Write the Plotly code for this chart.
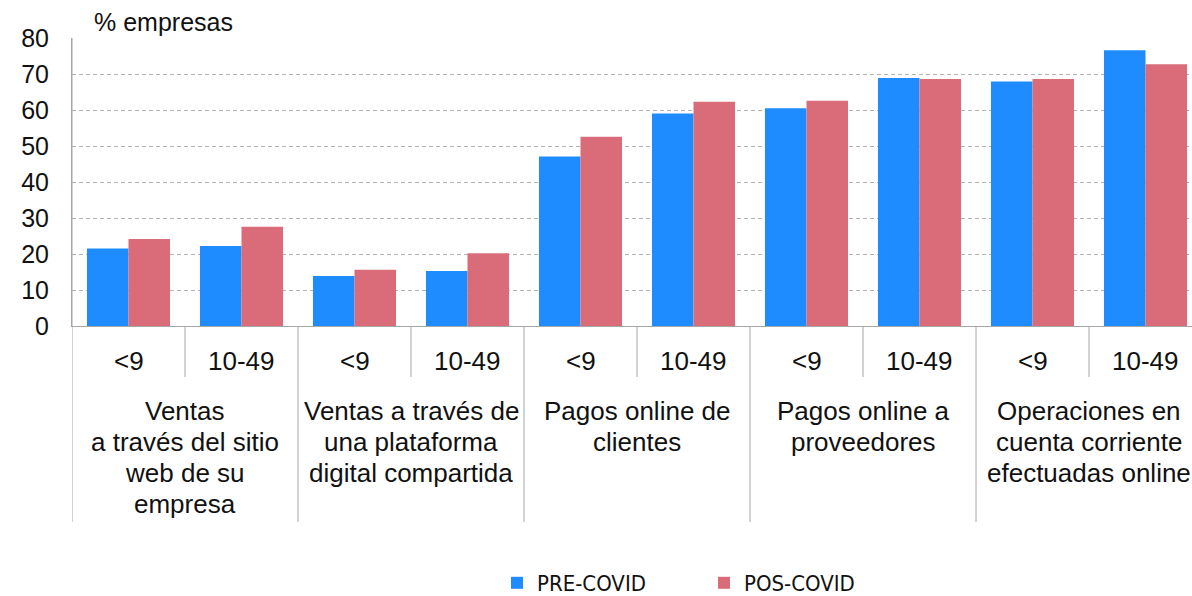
import plotly.graph_objects as go

# ---- data ----
size_labels = ["<9", "10-49", "<9", "10-49", "<9", "10-49", "<9", "10-49", "<9", "10-49"]
group_labels = [
    "Ventas<br>a través del sitio<br>web de su<br>empresa",
    "Ventas a través de<br>una plataforma<br>digital compartida",
    "Pagos online de<br>clientes",
    "Pagos online a<br>proveedores",
    "Operaciones en<br>cuenta corriente<br>efectuadas online",
]
pre_covid = [21.5, 22.2, 13.9, 15.3, 47.1, 59.0, 60.5, 68.9, 67.9, 76.6]
pos_covid = [24.2, 27.6, 15.6, 20.2, 52.6, 62.3, 62.6, 68.6, 68.6, 72.7]
y_ticks = [0, 10, 20, 30, 40, 50, 60, 70, 80]

FONT = "Helvetica Neue, Helvetica, Liberation Sans, Arial, sans-serif"
NARROW = "Liberation Sans Narrow, Arial Narrow, DejaVu Sans Condensed, Liberation Sans, sans-serif"
TXT = "#111111"
BLUE = "#1E8CFF"
RED = "#DA6C7A"
GRAY = "#a6a6a6"

W, H = 1192, 596
TOP, BOT = 38, 326          # pixel rows of y=80 and y=0
PH = BOT - TOP


def py(p):
    """pixel row -> paper y"""
    return (BOT - p) / PH


xs = list(range(len(size_labels)))

fig = go.Figure()
fig.add_trace(go.Bar(x=xs, y=pre_covid, name="PRE-COVID", marker=dict(color=BLUE, line=dict(width=0))))
fig.add_trace(go.Bar(x=xs, y=pos_covid, name="POS-COVID", marker=dict(color=RED, line=dict(width=0))))

annotations = []
# y-axis title
annotations.append(dict(text="% empresas", xref="paper", yref="paper", x=(92 - 72) / (W - 72), y=py(22),
                        xanchor="left", yanchor="middle", showarrow=False,
                        font=dict(family=FONT, size=25, color=TXT)))
# size-class labels
for i, lab in enumerate(size_labels):
    annotations.append(dict(text=lab, xref="x", yref="paper", x=i, y=py(361),
                            xanchor="center", yanchor="middle", showarrow=False,
                            font=dict(family=FONT, size=26, color=TXT)))
# group labels, one annotation per line
for g, lab in enumerate(group_labels):
    for k, line in enumerate(lab.split("<br>")):
        annotations.append(dict(text=line, xref="x", yref="paper", x=2 * g + 0.5, y=py(411 + 31 * k),
                                xanchor="center", yanchor="middle", showarrow=False,
                                font=dict(family=FONT, size=26, color=TXT)))

shapes = []
for i in range(0, len(size_labels), 2):
    # minor divider between <9 and 10-49
    shapes.append(dict(type="line", xref="x", yref="paper", x0=i + 0.5, x1=i + 0.5,
                       y0=0, y1=py(377), line=dict(color=GRAY, width=1)))
for g in range(len(group_labels) + 1):
    xv = 2 * g - 0.5
    shapes.append(dict(type="line", xref="x", yref="paper", x0=xv, x1=xv,
                       y0=0 if g > 0 else 1, y1=py(522), line=dict(color=GRAY, width=1)))

fig.update_layout(
    width=W, height=H,
    margin=dict(l=72, r=0, t=TOP, b=H - BOT, pad=0, autoexpand=False),
    paper_bgcolor="white", plot_bgcolor="white",
    barmode="group", bargap=0.265, bargroupgap=0,
    showlegend=True,
    legend=dict(orientation="h", x=(497 - 72) / (W - 72), xanchor="left",
                y=py(583), yanchor="middle", yref="paper",
                font=dict(family=NARROW, size=22, color=TXT),
                entrywidth=162, entrywidthmode="pixels",
                itemwidth=30, bgcolor="rgba(0,0,0,0)"),
    xaxis=dict(range=[-0.5, -0.5 + (W - 72) / 113.0], showticklabels=False, ticks="",
               showgrid=False, zeroline=False, showline=True, linecolor=GRAY, linewidth=1,
               fixedrange=True),
    yaxis=dict(range=[0, 80], tickvals=y_ticks, ticktext=[str(v) for v in y_ticks],
               tickfont=dict(family=FONT, size=25, color=TXT), ticks="",
               ticklabelstandoff=17,
               showgrid=True, gridcolor="#b4b4b4", gridwidth=1, griddash="4px,3px",
               zeroline=False, showline=True, linecolor=GRAY, linewidth=1, fixedrange=True),
    annotations=annotations,
    shapes=shapes,
    font=dict(family=FONT, color=TXT),
)

fig.write_html("out.html", config={"displayModeBar": False},
               post_script="document.body.style.margin='0';document.body.style.overflow='hidden';")
